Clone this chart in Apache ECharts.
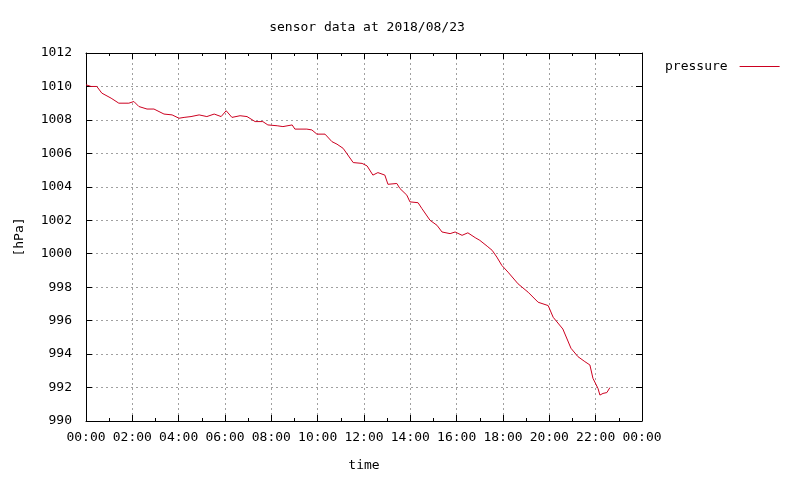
<!DOCTYPE html>
<html><head><meta charset="utf-8">
<script src="https://cdn.jsdelivr.net/npm/echarts@6/dist/echarts.min.js"></script>
<style>html,body{margin:0;padding:0;background:#fff}#c{width:800px;height:480px}</style>
</head><body><div id="c"></div>
<script>
const times = ["00:00","00:13","00:28","00:41","01:05","01:25","01:51","02:04","02:17","02:38","02:56","03:22","03:43","04:01","04:14","04:32","04:53","05:13","05:32","05:50","06:03","06:18","06:39","06:57","07:18","07:38","07:51","08:15","08:30","08:54","09:01","09:32","09:45","09:58","10:19","10:37","10:50","11:06","11:32","11:55","12:08","12:23","12:36","12:54","13:02","13:25","13:33","13:51","13:59","14:20","14:30","14:51","15:09","15:22","15:43","15:56","16:14","16:29","16:48","17:00","17:19","17:32","17:44","17:57","18:13","18:39","19:05","19:31","19:57","20:10","20:35","20:56","21:14","21:32","21:45","21:53","22:06","22:11","22:19","22:29","22:37"];
const pressure = [1010.1,1010.0,1010.0,1009.6,1009.3,1009.0,1009.0,1009.1,1008.8,1008.65,1008.65,1008.35,1008.3,1008.1,1008.15,1008.2,1008.3,1008.2,1008.35,1008.2,1008.55,1008.15,1008.25,1008.2,1007.9,1007.9,1007.7,1007.65,1007.6,1007.7,1007.45,1007.45,1007.4,1007.15,1007.15,1006.7,1006.55,1006.3,1005.45,1005.4,1005.25,1004.7,1004.85,1004.7,1004.15,1004.2,1003.9,1003.5,1003.1,1003.05,1002.7,1002.0,1001.7,1001.3,1001.2,1001.3,1001.1,1001.25,1000.96,1000.8,1000.45,1000.2,999.8,999.3,998.9,998.2,997.7,997.1,996.9,996.2,995.5,994.35,993.85,993.55,993.35,992.55,991.95,991.55,991.65,991.7,992.0];
const xTicks = ["00:00","02:00","04:00","06:00","08:00","10:00","12:00","14:00","16:00","18:00","20:00","22:00","00:00"];

function toMin(t){const p=t.split(":");return (+p[0])*60+(+p[1]);}
const data = times.map((t,i)=>[toMin(t),pressure[i]]);
const FONT = "DejaVu Sans Mono";
const FS = 13;
const RED = '#cc0020';
const grid = {left:86,right:158,top:53,bottom:59};
const dotted = {show:true,lineStyle:{color:'#a0a0a0',type:[2,3],width:1}};
const chart = echarts.init(document.getElementById('c'),null,{renderer:'canvas'});
chart.setOption({
  animation:false,
  textStyle:{fontFamily:FONT,color:'#000'},
  title:{text:'sensor data at 2018/08/23',left:362,textAlign:'center',top:16,
    textStyle:{fontFamily:FONT,fontSize:FS,fontWeight:'normal',color:'#000'}},
  legend:{left:660,top:55,orient:'vertical',align:'right',itemWidth:40,itemHeight:1,itemGap:8,
    textStyle:{fontFamily:FONT,fontSize:FS,color:'#000',padding:[0,7,0,0]},
    data:[{name:'pressure',icon:'rect',itemStyle:{color:RED}}]},
  grid:grid,
  xAxis:[{type:'value',min:0,max:1440,interval:120,
    name:'time',nameLocation:'middle',nameGap:38,
    nameTextStyle:{fontFamily:FONT,fontSize:FS,color:'#000'},
    axisLine:{show:true,onZero:false,lineStyle:{color:'#000',width:1}},
    axisTick:{show:true,inside:true,length:6,lineStyle:{color:'#000'}},
    minorTick:{show:true,splitNumber:2,length:3,lineStyle:{color:'#000'}},
    axisLabel:{fontFamily:FONT,fontSize:FS,color:'#000',margin:10,
      formatter:(v)=>xTicks[Math.round(v/120)]},
    splitLine:dotted},
   {type:'value',position:'top',min:0,max:1440,interval:120,
    axisLine:{show:true,onZero:false,lineStyle:{color:'#000',width:1}},
    axisTick:{show:true,inside:true,length:6,lineStyle:{color:'#000'}},
    minorTick:{show:true,splitNumber:2,length:3,lineStyle:{color:'#000'}},
    axisLabel:{show:false},splitLine:{show:false}}],
  yAxis:[{type:'value',min:990,max:1012,interval:2,
    name:'[hPa]',nameLocation:'middle',nameRotate:90,nameGap:60,
    nameTextStyle:{fontFamily:FONT,fontSize:FS,color:'#000'},
    axisLine:{show:true,onZero:false,lineStyle:{color:'#000',width:1}},
    axisTick:{show:true,inside:true,length:6,lineStyle:{color:'#000'}},
    axisLabel:{fontFamily:FONT,fontSize:FS,color:'#000',margin:14,formatter:(v)=>String(v)},
    splitLine:dotted},
   {type:'value',position:'right',min:990,max:1012,interval:2,
    axisLine:{show:true,onZero:false,lineStyle:{color:'#000',width:1}},
    axisTick:{show:true,inside:true,length:6,lineStyle:{color:'#000'}},
    axisLabel:{show:false},splitLine:{show:false}}],
  series:[{name:'pressure',type:'line',data:data,showSymbol:false,symbol:'none',
    lineStyle:{color:RED,width:1},itemStyle:{color:RED}}]
});
</script></body></html>
